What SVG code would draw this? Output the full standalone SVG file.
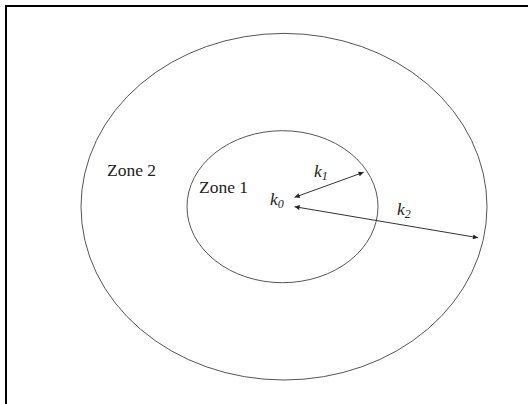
<svg xmlns="http://www.w3.org/2000/svg" width="528" height="404" viewBox="0 0 528 404">
<style>
.ring{fill:none;stroke:#555;stroke-width:1}
.lbl{font-family:"Liberation Serif","Times New Roman",serif;font-size:17.5px;fill:#222}
.var{font-family:"Liberation Serif","Times New Roman",serif;font-size:17.5px;font-style:italic;fill:#222}
.sub{font-size:12px}
.arr{stroke:#333;stroke-width:1;fill:none;marker-start:url(#ah);marker-end:url(#ah)}
</style>
<defs>
<marker id="ah" viewBox="0 0 10 10" refX="10" refY="5" markerWidth="7" markerHeight="5" orient="auto-start-reverse" markerUnits="userSpaceOnUse">
<path d="M0,0 L10,5 L0,10 Z" fill="#222"/>
</marker>
</defs>
<rect width="528" height="404" fill="#fff"/>
<path d="M6,404 V6 H528" fill="none" stroke="#000" stroke-width="2"/>
<g id="zone2">
<ellipse class="ring" cx="284" cy="206.7" rx="203" ry="173.3"/>
<text class="lbl" x="107" y="176">Zone 2</text>
</g>
<g id="zone1">
<ellipse class="ring" cx="282.5" cy="206.7" rx="95.5" ry="76"/>
<text class="lbl" x="199" y="193">Zone 1</text>
</g>
<g id="k0">
<text class="var" x="270" y="205">k<tspan class="sub" dy="3">0</tspan></text>
</g>
<g id="connectors">
<line class="arr" x1="294.6" y1="197.3" x2="363.6" y2="172.3"/>
<line class="arr" x1="294.6" y1="206.7" x2="478" y2="237.7"/>
</g>
<g id="labels">
<text class="var" x="314" y="177">k<tspan class="sub" dy="3">1</tspan></text>
<text class="var" x="397" y="215">k<tspan class="sub" dy="3">2</tspan></text>
</g>
</svg>
